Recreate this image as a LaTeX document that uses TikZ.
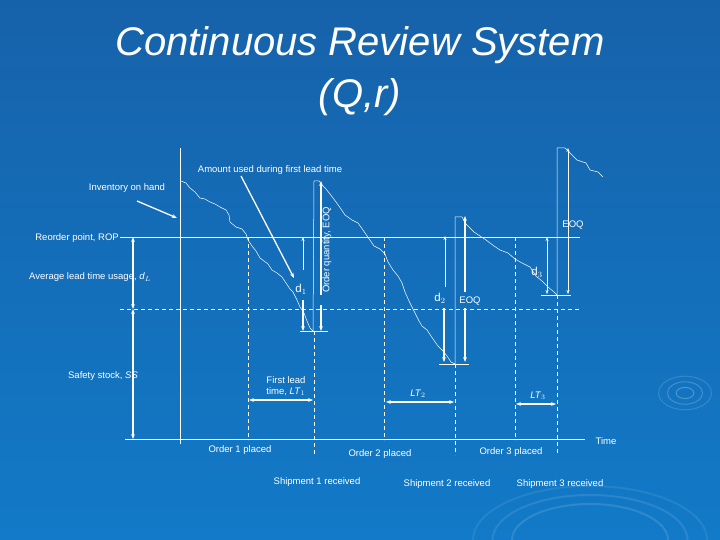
\documentclass[tikz,border=0pt]{standalone}
\usepackage{fontspec}
\setmainfont{Liberation Sans}
\usetikzlibrary{arrows.meta}
\begin{document}
\begin{tikzpicture}[x=1pt,y=-1pt,
  every node/.style={text=white,font=\fontsize{9.5}{11}\selectfont,inner sep=1pt},
  dl/.style={font=\fontsize{11.5}{13}\selectfont},
  ln/.style={white,line width=0.7pt},
  thin/.style={white,line width=0.5pt},
  dsh/.style={white,line width=0.7pt,dash pattern=on 4pt off 3pt},
  thk/.style={white,line width=1.3pt},
  dar/.style={thk,{Stealth[length=5pt]}-{Stealth[length=5pt]}},
  sar/.style={thk,-{Stealth[length=5pt]}},
  tar/.style={thin,-{Stealth[length=4pt]}},
  tdar/.style={thin,{Stealth[length=4pt]}-{Stealth[length=4pt]}}]
\definecolor{bgtop}{RGB}{22,98,170}
\definecolor{bgbot}{RGB}{18,122,200}
\shade[top color=bgtop,bottom color=bgbot] (0,0) rectangle (720,540);
\useasboundingbox (0,0) rectangle (720,540);
% ripples
\foreach \r/\o in {8/0.25,16/0.2,24/0.15}{\draw[white,opacity=\o,line width=1pt] (685,393) ellipse ({\r*1.1} and {\r*0.7});}
\foreach \r/\o in {60/0.12,75/0.1,90/0.08}{\draw[white,opacity=\o,line width=2pt] (590,540) ellipse ({\r*1.3} and {\r*0.6});}
% title
\node[font=\fontsize{40}{52}\selectfont\itshape,align=center] (title) at (360,71) {Continuous Review System\\(Q,r)};
% axes
\coordinate (vt) at (180,148); \coordinate (vb) at (180,444);
\draw[ln] (vt) -- (vb);
\coordinate (hl) at (125,439); \coordinate (hr) at (585,439);
\draw[ln] (hl) -- (hr);
\node (time) at (606,441) {Time};
\coordinate (ropl) at (120,237); \coordinate (ropr) at (580,237);
\draw[ln] (ropl) -- (ropr);
\coordinate (ssl) at (120,309); \coordinate (ssr) at (580,309);
\draw[dsh] (ssl) -- (ssr);
% left arrows
\coordinate (la) at (133,237); \coordinate (lm) at (133,309); \coordinate (lb) at (133,439);
\draw[dar] (la) -- (lm);
\draw[dar] (lm) -- (lb);
\node[anchor=east] (rop) at (120,238) {Reorder point, ROP};
\node (avg) at (90,277) {Average lead time usage, \textit{d}$_{\scriptstyle L}$};
\node (ss) at (103,376) {Safety stock, \textit{SS}};
% inventory curves
\draw[thin] (181,181) -- (186,183) -- (190,188) -- (195,192) -- (200,198) -- (205,199) -- (210,202) -- (215,204) -- (220,207) -- (226,210) -- (229,215) -- (230,222) -- (236,227) -- (242,229) -- (246,234) -- (248,240) -- (252,246) -- (256,251) -- (260,258) -- (264,261) -- (268,264) -- (272,270) -- (277,273) -- (282,277) -- (286,283) -- (290,289) -- (293,292) -- (297,300) -- (300,307) -- (304,313) -- (307,321) -- (310,328) -- (313,331);
\draw[thin] (313,331) -- (314,181) -- (319,181) -- (322,185) -- (326,189) -- (330,194) -- (336,202) -- (341,209) -- (345,215) -- (352,220) -- (358,223) -- (363,230) -- (374,246) -- (380,249) -- (385,254) -- (388,262) -- (393,270) -- (398,276) -- (402,283) -- (405,292) -- (409,301) -- (419,321) -- (422,326) -- (427,330) -- (433,339) -- (438,346) -- (443,351) -- (447,356) -- (451,362);
\draw[thin] (451,362) -- (455,364) -- (455,217) -- (462,217) -- (466,224) -- (474,232) -- (480,236) -- (486,240) -- (494,246) -- (500,250) -- (508,253) -- (515,259) -- (522,263) -- (530,267) -- (536,276) -- (542,281) -- (548,287) -- (554,292) -- (557,295);
\draw[thin] (557,295) -- (557,148) -- (565,148) -- (570,153) -- (577,160) -- (586,163) -- (590,170) -- (598,172) -- (603,177);
% dashed verticals
\foreach \x/\a/\b in {248/237/440, 314/331/455, 384/237/440, 455/364/455, 515/237/440, 557/295/455}
  \draw[dsh] (\x,\a) -- (\x,\b);
% ticks
\draw[ln] (300,331) -- (328,331);
\draw[ln] (439,364) -- (469,364);
\draw[ln] (541,295) -- (571,295);
% d1
\coordinate (d1t) at (303,237); \coordinate (d1b) at (303,331);
\draw[tar] (303,270) -- (d1t);
\draw[sar] (303,300) -- (d1b);
\node[dl] (d1) at (301,289) {d$_1$};
\draw[thk,{Stealth[length=5pt]}-] (321,181) -- (321,295);
\draw[sar] (321,305) -- (321,331);
\node[rotate=90] (eoq1) at (327,250) {Order quantity, EOQ};
% d2
\draw[tar] (445,287) -- (445,236);
\draw[sar] (444,308) -- (444,362);
\node[dl] (d2) at (440,298) {d$_2$};
\draw[thk,{Stealth[length=5pt]}-] (465,216) -- (465,292);
\draw[sar] (465,308) -- (465,362);
\node (eoq2) at (470,301) {EOQ};
% d3
\draw[tdar] (547,237) -- (547,294);
\node[dl] (d3) at (537,272) {d$_3$};
\draw[tdar] (568,148) -- (568,294);
\node (eoq3) at (573,225) {EOQ};
% lead times
\draw[dar] (249,400) -- (313,400);
\node[align=left] (lt1) at (286,386) {First lead\\time, \textit{LT}$_1$};
\draw[dar] (386,402) -- (454,402);
\node (lt2) at (418,394) {\textit{LT}$_2$};
\draw[dar] (516,404) -- (556,404);
\node (lt3) at (538,396) {\textit{LT}$_3$};
% annotations
\node (amt) at (270,170) {Amount used during first lead time};
\draw[white,line width=1.3pt,-{Stealth[length=5pt]}] (241,176) -- (294,278);
\node (inv) at (127,188) {Inventory on hand};
\draw[white,line width=1.3pt,-{Stealth[length=5pt]}] (137,201) -- (177,218);
% bottom labels
\node (o1) at (240,450) {Order 1 placed};
\node (o2) at (380,454) {Order 2 placed};
\node (o3) at (511,452) {Order 3 placed};
\node (s1) at (317,482) {Shipment 1 received};
\node (s2) at (447,484) {Shipment 2 received};
\node (s3) at (560,484) {Shipment 3 received};
\end{tikzpicture}
\end{document}
